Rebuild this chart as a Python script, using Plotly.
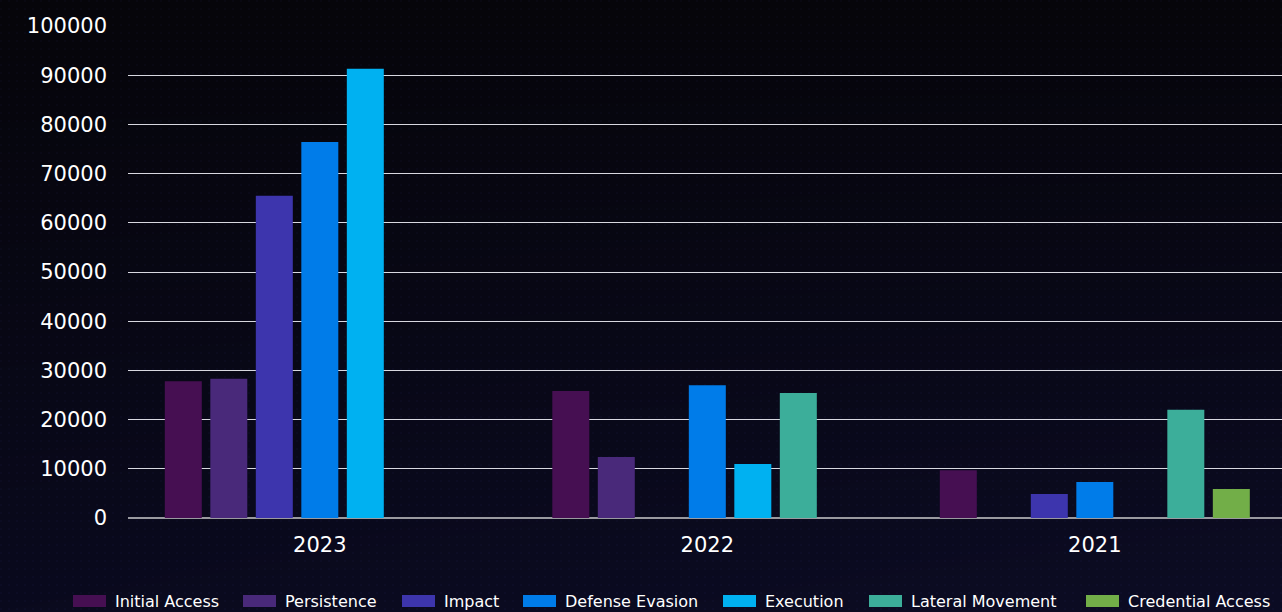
import base64
import struct
import zlib

import numpy as np
import plotly.graph_objects as go

# Attack tactics observed per year
years = ["2023", "2022", "2021"]
initial_access = [27800, 25800, 9700]
persistence = [28300, 12400, 0]
impact = [65500, 0, 4900]
defense_evasion = [76400, 27000, 7300]
execution = [91300, 11000, 0]
lateral_movement = [0, 25400, 22000]
credential_access = [0, 0, 5900]

series = [
    ("Initial Access", initial_access, "#460f52"),
    ("Persistence", persistence, "#49297a"),
    ("Impact", impact, "#3d35ad"),
    ("Defense Evasion", defense_evasion, "#007ce9"),
    ("Execution", execution, "#00b1f1"),
    ("Lateral Movement", lateral_movement, "#3cae9a"),
    ("Credential Access", credential_access, "#72ae48"),
]

FONT = "'DejaVu Sans', sans-serif"

W, H = 1282, 612
M_L, M_R, M_T, M_B = 128, 0, 26, 94
PLOT_W = W - M_L - M_R
PLOT_H = H - M_T - M_B


def px_x(px):
    return (px - M_L) / PLOT_W


def px_y(py):
    return (H - M_B - py) / PLOT_H


def backdrop_png(w, h):
    """Dark backdrop: near-black at the top fading to deep navy, with a faint dot grid."""
    top = np.array([6, 5, 10], dtype=float)
    bottom = np.array([10, 10, 30], dtype=float)
    t = np.linspace(0, 1, h)[:, None, None]
    xs = np.linspace(0, 1, w)[None, :, None]
    img = top * (1 - t) + bottom * t
    img = img + (np.array([2, 2, 6]) * xs) * t
    img = np.broadcast_to(img, (h, w, 3)).copy()
    yy, xx = np.mgrid[0:h, 0:w]
    dots = ((yy % 8) < 2) & ((xx % 8) < 2)
    img[dots] += np.array([3, 3, 7])
    img = np.clip(img, 0, 255).astype(np.uint8)
    raw = b"".join(b"\x00" + img[r].tobytes() for r in range(h))

    def chunk(tag, data):
        c = tag + data
        return struct.pack(">I", len(data)) + c + struct.pack(">I", zlib.crc32(c) & 0xFFFFFFFF)

    png = b"\x89PNG\r\n\x1a\n"
    png += chunk(b"IHDR", struct.pack(">IIBBBBB", w, h, 8, 2, 0, 0, 0))
    png += chunk(b"IDAT", zlib.compress(raw, 9))
    png += chunk(b"IEND", b"")
    return "data:image/png;base64," + base64.b64encode(png).decode()


fig = go.Figure()
for name, values, color in series:
    fig.add_trace(
        go.Bar(
            name=name,
            x=years,
            y=values,
            marker=dict(color=color, line=dict(width=0)),
            hovertemplate="%{x}<br>" + name + ": %{y}<extra></extra>",
        )
    )

# Legend row along the bottom edge: wide swatch followed by its label
legend_starts = [73, 243, 402, 523, 723, 869, 1086]
legend_y = 601
shapes = []
annotations = []
for (name, _, color), x0 in zip(series, legend_starts):
    shapes.append(
        dict(
            type="rect",
            xref="paper",
            yref="paper",
            x0=px_x(x0),
            x1=px_x(x0 + 33),
            y0=px_y(legend_y + 6),
            y1=px_y(legend_y - 6),
            fillcolor=color,
            line=dict(width=0),
            layer="above",
        )
    )
    annotations.append(
        dict(
            text=name,
            xref="paper",
            yref="paper",
            x=px_x(x0 + 40),
            y=px_y(legend_y),
            xanchor="left",
            yanchor="middle",
            showarrow=False,
            font=dict(family=FONT, size=16, color="#ffffff"),
        )
    )

# Each year occupies ~387 px; the last category runs slightly past the right edge
cat_px = 387.5
x_lo = -0.495

fig.update_layout(
    width=W,
    height=H,
    barmode="group",
    bargap=0.178,
    bargroupgap=0.187,
    paper_bgcolor="#08071a",
    plot_bgcolor="rgba(0,0,0,0)",
    margin=dict(l=M_L, r=M_R, t=M_T, b=M_B, autoexpand=False),
    font=dict(family=FONT, color="#ffffff", size=21),
    showlegend=False,
    shapes=shapes,
    annotations=annotations,
    images=[
        dict(
            source=backdrop_png(W, H),
            xref="paper",
            yref="paper",
            x=-M_L / PLOT_W,
            y=1 + M_T / PLOT_H,
            sizex=W / PLOT_W,
            sizey=H / PLOT_H,
            sizing="stretch",
            layer="below",
            xanchor="left",
            yanchor="top",
        )
    ],
    xaxis=dict(
        range=[x_lo, x_lo + PLOT_W / cat_px],
        showgrid=False,
        showline=False,
        ticks="",
        tickfont=dict(size=21, color="#ffffff"),
        ticklabelstandoff=12,
    ),
    yaxis=dict(
        range=[0, 100000],
        dtick=10000,
        tickformat="d",
        showgrid=True,
        gridcolor="#d8d8e0",
        gridwidth=1,
        zeroline=True,
        zerolinecolor="#9a9aa0",
        zerolinewidth=2,
        ticks="",
        ticklabelstandoff=20,
        tickfont=dict(size=21, color="#ffffff"),
    ),
)

fig.write_html("out.html")
